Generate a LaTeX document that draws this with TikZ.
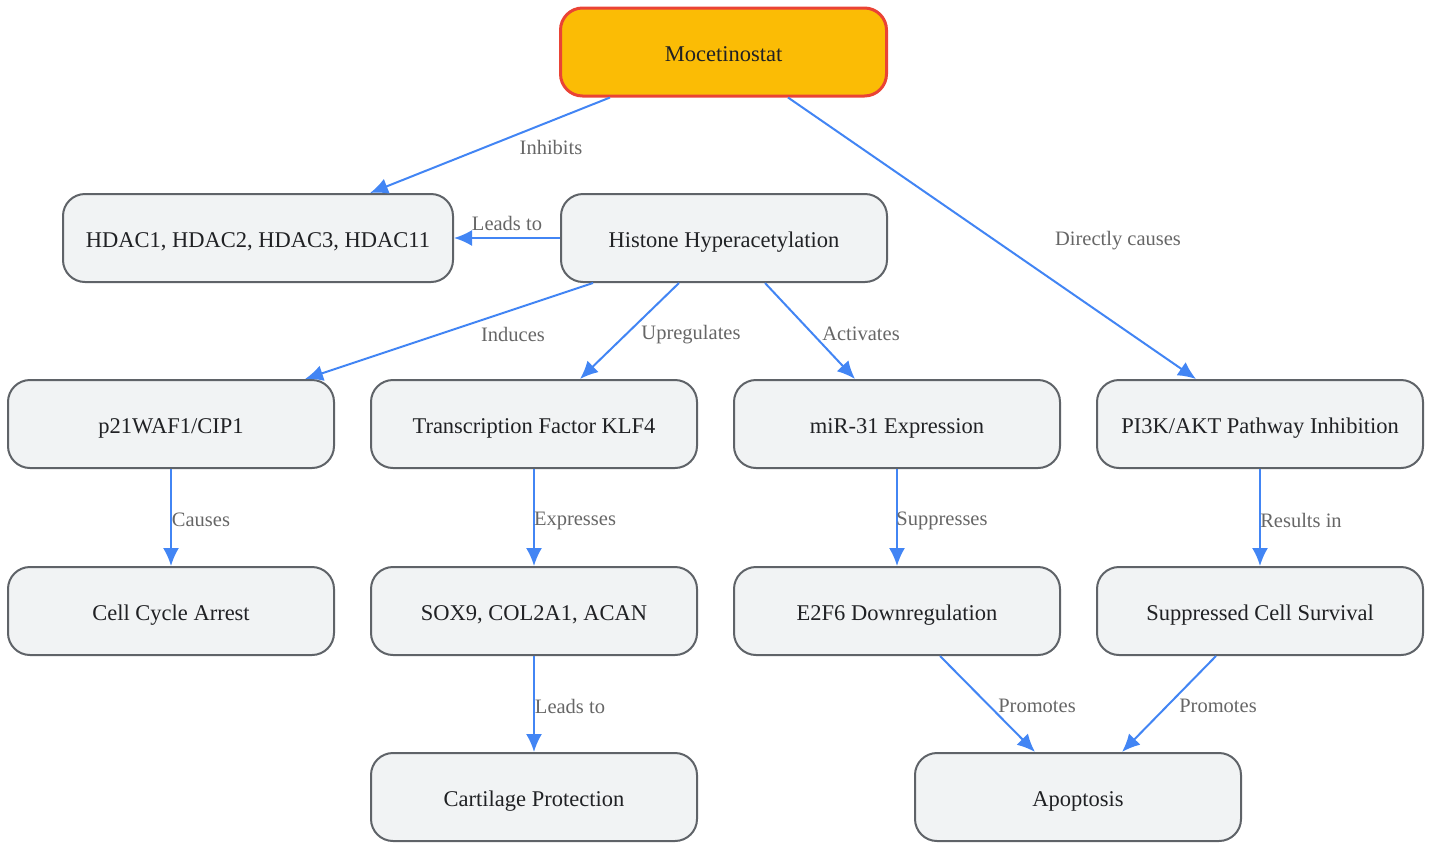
\documentclass[tikz,border=0pt]{standalone}
\usepackage{fontspec}
\setmainfont{Liberation Serif}
\usepackage{tikz}
\usetikzlibrary{arrows.meta,positioning,calc}
\definecolor{boxfill}{HTML}{F1F3F4}
\definecolor{boxline}{HTML}{5F6368}
\definecolor{drugfill}{HTML}{FBBC05}
\definecolor{drugline}{HTML}{EA4335}
\definecolor{arrowcol}{HTML}{4285F4}
\definecolor{lblcol}{HTML}{666666}
\definecolor{txtcol}{HTML}{202124}
\begin{document}
\begin{tikzpicture}[x=1pt, y=-1pt, >={Latex[length=18pt,width=16pt]}]
\tikzstyle{every box}=[draw=boxline, fill=boxfill, line width=2pt, rounded corners=22pt,
  minimum width=326pt, minimum height=88pt, text=txtcol, font=\fontsize{22.5}{27}\selectfont,
  inner xsep=10pt, text height=18pt, text depth=0pt]
\tikzstyle{box}=[every box]
\tikzstyle{drug}=[every box, fill=drugfill, draw=drugline, line width=3pt]
\tikzstyle{link}=[->, draw=arrowcol, line width=2pt]
\tikzstyle{lbl}=[text=lblcol, font=\fontsize{20.5}{24}\selectfont, inner sep=0pt]
\useasboundingbox (0,0) rectangle (1431,844);
% nodes
\node[drug] (moce)   at (723.5,52) {Mocetinostat};
\node[box, minimum width=390pt] (hdac) at (258,238) {HDAC1, HDAC2, HDAC3, HDAC11};
\node[box]  (hist)   at (724,238)  {Histone Hyperacetylation};
\node[box]  (p21)    at (171,424)  {p21WAF1/CIP1};
\node[box]  (klf)    at (534,424)  {Transcription Factor KLF4};
\node[box]  (mir)    at (897,424)  {miR-31 Expression};
\node[box]  (pik)    at (1260,424) {PI3K/AKT Pathway Inhibition};
\node[box]  (cycle)  at (171,611)  {Cell Cycle Arrest};
\node[box]  (sox)    at (534,611)  {SOX9, COL2A1, ACAN};
\node[box]  (e2f)    at (897,611)  {E2F6 Downregulation};
\node[box]  (surv)   at (1260,611) {Suppressed Cell Survival};
\node[box]  (cart)   at (534,797)  {Cartilage Protection};
\node[box]  (apop)   at (1078,797) {Apoptosis};
% connectors
\draw[link] ([xshift=-113.5pt]moce.south) -- ([xshift=112pt]hdac.north);
\draw[link] (hist.west) -- (hdac.east);
\draw[link] ([xshift=64.5pt]moce.south) -- ([xshift=-64pt]pik.north);
\draw[link] ([xshift=-131pt]hist.south) -- ([xshift=134pt]p21.north);
\draw[link] ([xshift=-45pt]hist.south) -- ([xshift=46pt]klf.north);
\draw[link] ([xshift=41pt]hist.south) -- ([xshift=-42pt]mir.north);
\draw[link] (p21) -- (cycle);
\draw[link] (klf) -- (sox);
\draw[link] (mir) -- (e2f);
\draw[link] (pik) -- (surv);
\draw[link] (sox) -- (cart);
\draw[link] ([xshift=43pt]e2f.south) -- ([xshift=-43pt]apop.north);
\draw[link] ([xshift=-44pt]surv.south) -- ([xshift=44pt]apop.north);
% labels
\node[lbl] (l1)  at (551,147)  {Inhibits};
\node[lbl] (l2)  at (507,223)  {Leads to};
\node[lbl] (l3)  at (1118,241) {Directly causes};
\node[lbl] (l4)  at (513,334)  {Induces};
\node[lbl] (l5)  at (691,335)  {Upregulates};
\node[lbl] (l6)  at (861,334)  {Activates};
\node[lbl] (l7)  at (201,520)  {Causes};
\node[lbl] (l8)  at (575,521)  {Expresses};
\node[lbl] (l9)  at (942,521)  {Suppresses};
\node[lbl] (l10) at (1301,520) {Results in};
\node[lbl] (l11) at (570,706)  {Leads to};
\node[lbl] (l12) at (1037,706) {Promotes};
\node[lbl] (l13) at (1218,706) {Promotes};
\end{tikzpicture}
\end{document}
